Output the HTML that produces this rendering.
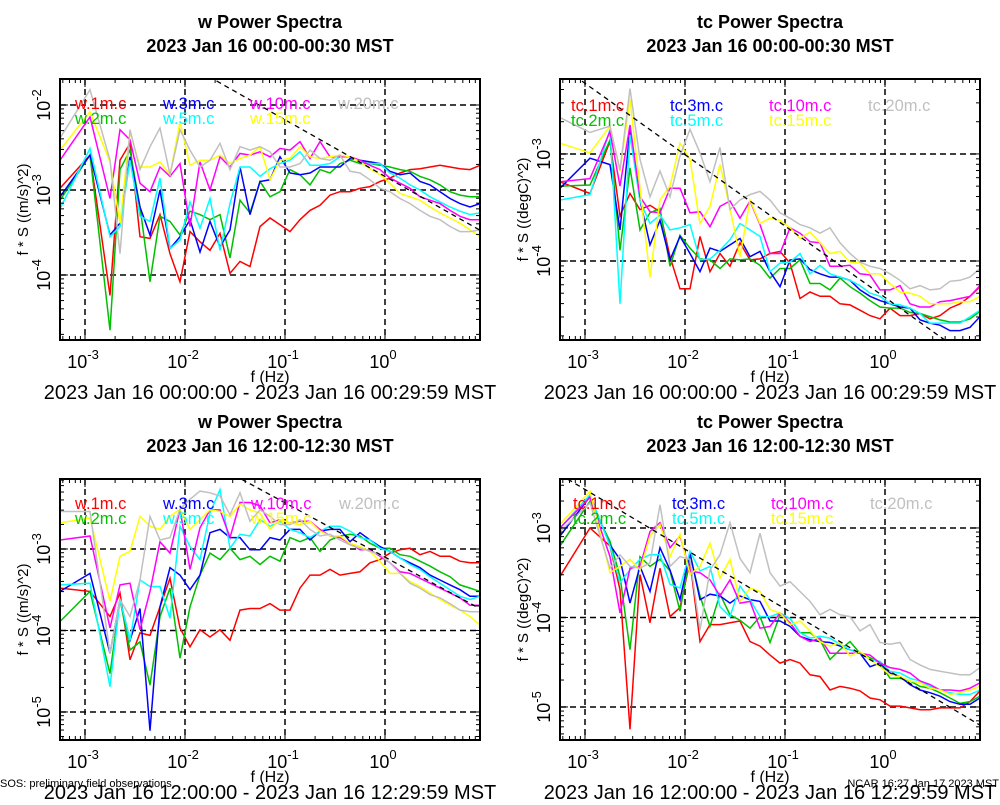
<!DOCTYPE html>
<html><head><meta charset="utf-8"><style>
body{margin:0;background:#fff;width:1000px;height:800px;overflow:hidden;font-family:"Liberation Sans",sans-serif}
svg text{font-family:"Liberation Sans",sans-serif}
</style></head><body>
<svg id="chart" width="1000" height="800" xmlns="http://www.w3.org/2000/svg"></svg>
<script>
// log10 of frequency (Hz)
const logFreq=[-3.25,-2.95,-2.75,-2.65,-2.55,-2.45,-2.35,-2.25,-2.15,-2.05,-1.95,-1.85,-1.75,-1.65,-1.55,-1.45,-1.35,-1.25,-1.15,-1.05,-0.95,-0.85,-0.75,-0.65,-0.55,-0.45,-0.35,-0.25,-0.15,-0.05,0.05,0.15,0.25,0.35,0.45,0.55,0.65,0.75,0.85,0.95];
const seriesNames=["1m","2m","3m","5m","10m","15m","20m"];
const seriesColors=["#ff0000","#00c000","#0000ff","#00ffff","#ff00ff","#ffff00","#c0c0c0"];
// log10 of f*S — panel 1: w 00:00-00:30
const p1_1m=[-2.98,-2.59,-4.24,-2.65,-2.45,-3.55,-3.57,-3.29,-3.75,-4.08,-3.49,-3.61,-3.71,-3.51,-3.98,-3.84,-3.90,-3.43,-3.33,-3.41,-3.49,-3.35,-3.24,-3.18,-3.06,-3.02,-3.02,-2.98,-2.96,-2.90,-2.86,-2.80,-2.76,-2.75,-2.73,-2.71,-2.73,-2.75,-2.76,-2.71];
const p1_2m=[-3.12,-2.59,-4.65,-2.76,-2.53,-3.20,-4.08,-3.31,-3.37,-3.53,-3.25,-3.29,-3.35,-3.29,-3.80,-3.12,-3.27,-2.90,-3.08,-3.02,-2.76,-2.82,-2.94,-2.76,-2.80,-2.69,-2.65,-2.69,-2.69,-2.71,-2.73,-2.76,-2.78,-2.84,-2.88,-2.94,-3.02,-3.06,-3.08,-3.08];
const p1_3m=[-3.08,-2.59,-3.53,-3.39,-2.61,-3.20,-3.53,-3.00,-3.69,-3.55,-3.35,-3.73,-3.37,-3.67,-3.47,-2.73,-3.29,-2.90,-2.88,-2.61,-2.80,-2.82,-2.80,-2.73,-2.73,-2.73,-2.63,-2.65,-2.67,-2.69,-2.78,-2.82,-2.80,-2.90,-2.94,-3.02,-3.10,-3.16,-3.20,-3.16];
const p1_5m=[-3.22,-2.51,-3.55,-3.43,-2.65,-3.31,-3.37,-2.86,-3.69,-3.59,-3.14,-3.45,-3.10,-3.71,-3.16,-2.73,-2.73,-2.84,-2.75,-2.69,-2.65,-2.55,-2.71,-2.71,-2.69,-2.61,-2.61,-2.67,-2.69,-2.69,-2.80,-2.86,-2.94,-3.00,-3.08,-3.14,-3.20,-3.25,-3.29,-3.27];
const p1_10m=[-2.65,-2.14,-3.10,-2.29,-2.41,-2.92,-3.02,-2.73,-2.84,-2.69,-3.43,-2.67,-3.00,-2.61,-2.73,-2.57,-2.59,-2.55,-2.61,-2.51,-2.53,-2.43,-2.63,-2.43,-2.61,-2.61,-2.61,-2.65,-2.71,-2.76,-2.86,-2.92,-2.98,-3.08,-3.12,-3.16,-3.24,-3.31,-3.35,-3.35];
const p1_15m=[-2.53,-2.08,-2.67,-3.39,-2.31,-2.73,-2.73,-2.67,-2.82,-2.20,-2.71,-2.65,-2.65,-2.59,-2.69,-2.63,-2.59,-2.49,-2.88,-2.65,-2.63,-2.49,-2.61,-2.63,-2.61,-2.59,-2.61,-2.67,-2.75,-2.82,-2.92,-3.04,-3.08,-3.12,-3.20,-3.27,-3.33,-3.39,-3.47,-3.55];
const p1_20m=[-2.39,-1.82,-2.65,-3.75,-2.29,-2.76,-2.49,-2.27,-2.82,-2.29,-2.53,-2.73,-2.65,-2.45,-2.76,-2.49,-2.53,-2.49,-2.55,-2.73,-2.73,-2.69,-2.53,-2.63,-2.65,-2.59,-2.78,-2.80,-2.88,-2.98,-3.02,-3.10,-3.16,-3.24,-3.31,-3.35,-3.43,-3.49,-3.49,-3.47];
// panel 2: tc 00:00-00:30
const p2_1m=[-3.26,-3.37,-2.88,-3.58,-3.37,-3.52,-3.48,-3.54,-3.96,-4.26,-4.26,-3.77,-4.10,-3.93,-4.05,-3.83,-3.99,-3.98,-3.93,-3.91,-4.02,-4.35,-4.29,-4.33,-4.33,-4.40,-4.41,-4.46,-4.51,-4.54,-4.44,-4.51,-4.51,-4.49,-4.54,-4.51,-4.44,-4.40,-4.33,-4.24];
const p2_2m=[-3.30,-3.29,-2.87,-3.90,-3.13,-3.71,-3.55,-3.51,-4.05,-3.76,-3.88,-3.98,-3.99,-4.07,-3.98,-3.99,-3.98,-4.04,-4.16,-4.07,-4.07,-3.99,-4.21,-4.21,-4.27,-4.16,-4.24,-4.30,-4.37,-4.43,-4.44,-4.44,-4.48,-4.49,-4.52,-4.55,-4.57,-4.57,-4.54,-4.47];
const p2_3m=[-3.32,-3.04,-3.10,-3.71,-2.77,-3.43,-3.85,-3.62,-3.99,-3.77,-3.93,-4.10,-3.88,-3.91,-3.85,-3.79,-3.96,-3.91,-4.10,-4.24,-3.99,-3.98,-4.08,-4.12,-4.15,-4.15,-4.18,-4.27,-4.33,-4.37,-4.40,-4.43,-4.44,-4.55,-4.58,-4.60,-4.65,-4.65,-4.62,-4.52];
const p2_5m=[-3.43,-3.38,-2.77,-4.40,-2.82,-3.44,-3.65,-3.57,-3.71,-3.69,-3.66,-3.99,-3.98,-3.90,-3.80,-3.65,-3.71,-3.77,-4.10,-4.02,-4.01,-3.93,-4.12,-4.04,-4.12,-4.15,-4.18,-4.23,-4.30,-4.33,-4.40,-4.41,-4.44,-4.49,-4.58,-4.58,-4.58,-4.58,-4.52,-4.46];
const p2_10m=[-3.26,-3.23,-2.79,-3.30,-2.73,-3.40,-3.54,-3.55,-3.32,-3.32,-3.55,-3.54,-3.68,-3.49,-3.44,-3.60,-3.44,-3.66,-3.93,-3.93,-3.69,-3.74,-3.82,-3.83,-4.05,-4.05,-4.04,-4.12,-4.13,-4.27,-4.27,-4.23,-4.40,-4.43,-4.43,-4.38,-4.37,-4.35,-4.33,-4.23];
const p2_15m=[-2.90,-2.99,-2.74,-3.16,-2.49,-3.32,-4.15,-3.43,-3.30,-2.90,-3.05,-3.65,-3.49,-3.10,-3.51,-3.96,-3.43,-3.65,-3.60,-3.62,-3.69,-3.79,-3.73,-3.83,-3.93,-3.91,-4.01,-4.02,-4.12,-4.12,-4.21,-4.29,-4.30,-4.33,-4.40,-4.40,-4.40,-4.38,-4.38,-4.33];
const p2_20m=[-2.66,-2.80,-2.74,-3.15,-2.39,-3.05,-3.40,-3.16,-3.40,-3.02,-2.77,-2.99,-3.26,-2.94,-3.52,-3.43,-3.38,-3.35,-3.43,-3.55,-3.60,-3.66,-3.69,-3.74,-3.69,-3.83,-3.93,-4.01,-4.05,-4.07,-4.12,-4.18,-4.26,-4.23,-4.27,-4.26,-4.19,-4.18,-4.15,-4.07];
// panel 3: w 12:00-12:30
const p3_1m=[-3.48,-3.52,-3.83,-3.54,-4.36,-4.03,-4.06,-3.71,-3.36,-3.97,-4.20,-3.99,-4.08,-3.99,-4.12,-3.75,-3.73,-3.73,-3.67,-3.75,-3.75,-3.48,-3.32,-3.32,-3.25,-3.32,-3.30,-3.28,-3.17,-3.13,-3.05,-3.01,-2.99,-3.07,-3.03,-3.09,-3.09,-3.15,-3.17,-3.17];
const p3_2m=[-3.89,-3.52,-4.53,-3.62,-4.24,-4.14,-4.67,-3.83,-3.48,-4.34,-3.71,-3.32,-3.05,-3.13,-2.99,-3.13,-3.09,-3.19,-3.09,-3.15,-2.86,-2.91,-2.86,-3.03,-2.89,-2.84,-2.82,-2.84,-2.93,-2.99,-2.99,-3.07,-3.09,-3.15,-3.21,-3.28,-3.34,-3.44,-3.48,-3.52];
const p3_3m=[-3.52,-3.30,-4.28,-3.62,-4.12,-3.73,-5.23,-3.71,-3.23,-3.32,-3.50,-3.32,-2.80,-2.76,-2.86,-2.86,-3.01,-3.01,-2.86,-2.89,-2.76,-2.76,-2.89,-2.78,-2.76,-2.76,-2.91,-2.80,-2.89,-2.97,-3.03,-3.11,-3.17,-3.23,-3.32,-3.38,-3.44,-3.50,-3.58,-3.58];
const p3_5m=[-3.44,-3.42,-4.69,-3.62,-4.12,-3.38,-3.46,-3.46,-3.85,-2.72,-2.97,-3.13,-2.56,-2.27,-2.99,-2.82,-2.84,-2.64,-2.72,-2.66,-2.76,-2.80,-2.86,-2.78,-2.72,-2.72,-2.78,-2.86,-2.89,-2.99,-3.03,-3.11,-3.19,-3.25,-3.34,-3.42,-3.50,-3.58,-3.62,-3.58];
const p3_10m=[-2.89,-2.84,-3.97,-3.44,-3.42,-3.99,-3.52,-2.91,-3.05,-2.51,-3.25,-2.74,-2.52,-2.52,-2.86,-2.43,-2.43,-2.47,-2.68,-2.64,-2.68,-2.66,-2.66,-2.76,-2.84,-2.86,-2.93,-3.01,-3.01,-3.09,-3.17,-3.28,-3.30,-3.36,-3.42,-3.48,-3.54,-3.60,-3.69,-3.69];
const p3_15m=[-2.68,-2.62,-3.64,-3.09,-3.03,-2.60,-2.72,-2.76,-2.60,-2.51,-2.76,-2.64,-2.52,-2.54,-2.60,-2.45,-2.52,-2.56,-2.76,-2.64,-2.68,-2.70,-2.66,-2.78,-2.84,-2.84,-2.93,-2.97,-3.03,-3.15,-3.30,-3.30,-3.40,-3.46,-3.54,-3.62,-3.69,-3.75,-3.83,-3.93];
const p3_20m=[-2.54,-2.54,-4.28,-3.62,-3.83,-3.38,-2.60,-2.89,-2.86,-2.51,-2.39,-2.29,-2.31,-2.35,-2.58,-2.31,-2.66,-2.52,-2.60,-2.70,-2.70,-2.64,-2.76,-2.84,-2.82,-2.89,-2.95,-2.99,-3.03,-3.07,-3.17,-3.30,-3.42,-3.48,-3.56,-3.60,-3.67,-3.75,-3.77,-3.77];
// panel 4: tc 12:00-12:30
const p4_1m=[-3.54,-3.00,-3.20,-3.69,-5.25,-3.52,-4.06,-3.45,-3.99,-3.89,-3.37,-4.27,-4.08,-4.08,-4.06,-4.04,-4.27,-4.32,-4.42,-4.51,-4.47,-4.51,-4.64,-4.66,-4.81,-4.77,-4.79,-4.82,-4.90,-4.92,-4.99,-4.99,-5.01,-5.03,-5.03,-5.01,-5.01,-5.01,-4.94,-4.82];
const p4_2m=[-3.20,-2.70,-3.15,-3.54,-4.36,-3.32,-3.43,-3.35,-3.48,-3.93,-3.30,-3.76,-4.10,-3.74,-3.97,-4.03,-4.12,-3.99,-4.28,-3.97,-4.01,-4.17,-4.17,-4.25,-4.47,-4.36,-4.27,-4.40,-4.45,-4.51,-4.68,-4.68,-4.71,-4.77,-4.79,-4.84,-4.90,-4.96,-4.94,-4.88];
const p4_3m=[-3.09,-2.65,-3.19,-3.35,-3.84,-3.43,-3.71,-3.22,-3.47,-3.80,-3.28,-3.80,-3.74,-3.76,-3.84,-3.76,-3.80,-3.82,-4.04,-4.04,-4.10,-4.21,-4.25,-4.27,-4.28,-4.32,-4.36,-4.40,-4.55,-4.51,-4.62,-4.66,-4.75,-4.81,-4.84,-4.88,-4.94,-4.97,-4.97,-4.90];
const p4_5m=[-3.00,-2.63,-3.20,-3.61,-3.47,-3.35,-3.30,-3.30,-3.63,-3.67,-3.26,-3.48,-3.43,-3.88,-3.99,-3.65,-3.80,-3.99,-3.99,-3.95,-4.01,-4.17,-4.23,-4.21,-4.23,-4.30,-4.36,-4.40,-4.47,-4.49,-4.60,-4.62,-4.68,-4.71,-4.77,-4.81,-4.84,-4.86,-4.86,-4.81];
const p4_10m=[-3.00,-2.66,-3.32,-3.95,-3.45,-3.43,-3.04,-2.94,-3.22,-3.09,-3.48,-3.50,-3.58,-3.76,-3.58,-3.84,-3.82,-4.12,-4.10,-3.95,-4.06,-4.21,-4.27,-4.23,-4.40,-4.40,-4.40,-4.40,-4.42,-4.51,-4.56,-4.58,-4.62,-4.71,-4.75,-4.81,-4.81,-4.82,-4.79,-4.73];
const p4_15m=[-2.96,-2.59,-3.50,-3.43,-3.35,-3.47,-3.09,-2.96,-3.32,-3.07,-3.52,-3.43,-3.17,-3.56,-3.35,-3.82,-3.67,-3.71,-3.91,-3.95,-4.08,-4.04,-4.15,-4.27,-4.32,-4.28,-4.43,-4.38,-4.47,-4.55,-4.64,-4.66,-4.71,-4.73,-4.79,-4.81,-4.86,-4.84,-4.81,-4.77];
const p4_20m=[-3.04,-2.72,-3.45,-3.30,-3.43,-3.45,-3.39,-2.74,-3.43,-3.32,-3.35,-4.14,-3.47,-3.30,-2.94,-3.34,-3.50,-3.06,-3.50,-3.65,-3.60,-3.71,-3.82,-3.97,-3.91,-3.97,-3.99,-4.15,-4.08,-4.28,-4.30,-4.28,-4.47,-4.53,-4.58,-4.60,-4.62,-4.64,-4.64,-4.56];
// reference slope line: log10(f*S) = intercept + slope*log10(f)
const refSlope=-2/3;
const refIntercepts=[-2.84,-4.34,-3.10,-4.57];
const xTickExps=[-3,-2,-1,0];

const panels=[
 {id:"w-early",v:"w",title:"w Power Spectra",sub:"2023 Jan 16 00:00-00:30 MST",range:"2023 Jan 16 00:00:00 - 2023 Jan 16 00:29:59 MST",ylab:"f * S ((m/s)^2)",x0:60,x1:480,y0:79,y1:340,ymax:-1.694,ymin:-4.765,yt:[-2,-3,-4],data:[p1_1m,p1_2m,p1_3m,p1_5m,p1_10m,p1_15m,p1_20m],lx:[75,163,250,338],ly:109},
 {id:"tc-early",v:"tc",title:"tc Power Spectra",sub:"2023 Jan 16 00:00-00:30 MST",range:"2023 Jan 16 00:00:00 - 2023 Jan 16 00:29:59 MST",ylab:"f * S ((degC)^2)",x0:560,x1:980,y0:79,y1:340,ymax:-2.30,ymin:-4.738,yt:[-3,-4],data:[p2_1m,p2_2m,p2_3m,p2_5m,p2_10m,p2_15m,p2_20m],lx:[571,670,769,868],ly:111},
 {id:"w-noon",v:"w",title:"w Power Spectra",sub:"2023 Jan 16 12:00-12:30 MST",range:"2023 Jan 16 12:00:00 - 2023 Jan 16 12:29:59 MST",ylab:"f * S ((m/s)^2)",x0:60,x1:480,y0:479,y1:740,ymax:-2.141,ymin:-5.344,yt:[-3,-4,-5],data:[p3_1m,p3_2m,p3_3m,p3_5m,p3_10m,p3_15m,p3_20m],lx:[75,163,251,339],ly:509},
 {id:"tc-noon",v:"tc",title:"tc Power Spectra",sub:"2023 Jan 16 12:00-12:30 MST",range:"2023 Jan 16 12:00:00 - 2023 Jan 16 12:29:59 MST",ylab:"f * S ((degC)^2)",x0:560,x1:980,y0:479,y1:740,ymax:-2.453,ymin:-5.369,yt:[-3,-4,-5],data:[p4_1m,p4_2m,p4_3m,p4_5m,p4_10m,p4_15m,p4_20m],lx:[573,672,771,870],ly:509}
];
const NS="http://www.w3.org/2000/svg";
const svg=document.getElementById('chart');
function mk(tag,attrs,parent){const e=document.createElementNS(NS,tag);for(const k in attrs)e.setAttribute(k,attrs[k]);(parent||svg).appendChild(e);return e;}
const XMIN=-3.25,XMAX=0.95;
panels.forEach((p,pi)=>{
 const g=mk('g',{});
 
 
 const sx=v=>p.x0+(v-XMIN)/(XMAX-XMIN)*(p.x1-p.x0);
 const sy=v=>p.y0+(p.ymax-v)/(p.ymax-p.ymin)*(p.y1-p.y0);
 const cx=(p.x0+p.x1)/2;
 let t=mk('text',{x:cx,y:p.y0-51,'text-anchor':'middle','font-size':'18','font-weight':'bold'},g);t.textContent=p.title;
 
 t=mk('text',{x:cx,y:p.y0-27,'text-anchor':'middle','font-size':'18','font-weight':'bold'},g);t.textContent=p.sub;
 
 const cid='clip'+pi;
 const cp=mk('clipPath',{id:cid},g);mk('rect',{x:p.x0,y:p.y0,width:p.x1-p.x0,height:p.y1-p.y0},cp);
 xTickExps.forEach(e=>{const l=mk('line',{x1:sx(e),x2:sx(e),y1:p.y0,y2:p.y1,stroke:'#000','stroke-width':1.5,'stroke-dasharray':'6,4'},g);
  });
 p.yt.forEach(e=>{const l=mk('line',{x1:p.x0,x2:p.x1,y1:sy(e),y2:sy(e),stroke:'#000','stroke-width':1.5,'stroke-dasharray':'6,4'},g);
  });
 const sg=mk('g',{'clip-path':'url(#'+cid+')'},g);
 p.data.forEach((arr,si)=>{
  const pts=arr.map((v,i)=>sx(logFreq[i]).toFixed(1)+','+sy(v).toFixed(1)).join(' ');
  const pl=mk('polyline',{points:pts,fill:'none',stroke:seriesColors[si],'stroke-width':1.5},sg);
  
  
 });
 const rl=mk('line',{x1:sx(XMIN),y1:sy(refIntercepts[pi]+refSlope*XMIN),x2:sx(XMAX),y2:sy(refIntercepts[pi]+refSlope*XMAX),stroke:'#000','stroke-width':1.3,'stroke-dasharray':'5,4'},sg);
 
 const bx=mk('rect',{x:p.x0,y:p.y0,width:p.x1-p.x0,height:p.y1-p.y0,fill:'none',stroke:'#000','stroke-width':2},g);
 
 for(let d=-4;d<=0;d++){for(let m=1;m<10;m++){const v=d+Math.log10(m);if(v<XMIN||v>XMAX)continue;const L=m==1?8:4;const x=sx(v);
  mk('line',{x1:x,x2:x,y1:p.y1,y2:p.y1-L,stroke:'#000'},g);mk('line',{x1:x,x2:x,y1:p.y0,y2:p.y0+L,stroke:'#000'},g);}}
 for(let d=-6;d<=-1;d++){for(let m=1;m<10;m++){const v=d+Math.log10(m);if(v<p.ymin||v>p.ymax)continue;const L=m==1?8:4;const y=sy(v);
  mk('line',{x1:p.x0,x2:p.x0+L,y1:y,y2:y,stroke:'#000'},g);mk('line',{x1:p.x1,x2:p.x1-L,y1:y,y2:y,stroke:'#000'},g);}}
 xTickExps.forEach(e=>{const tx=mk('text',{x:sx(e)-2,y:p.y1+28,'text-anchor':'middle','font-size':'18'},g);
  tx.innerHTML='10<tspan dy="-9" font-size="13">'+e+'</tspan>';
  });
 p.yt.forEach(e=>{const y=sy(e);const tx=mk('text',{transform:'translate('+(p.x0-10)+','+y+') rotate(-90)','text-anchor':'middle','font-size':'18'},g);
  tx.innerHTML='10<tspan dy="-9" font-size="13">'+e+'</tspan>';
  });
 t=mk('text',{x:cx,y:p.y1+42,'text-anchor':'middle','font-size':'16'},g);t.textContent='f (Hz)';
 
 t=mk('text',{transform:'translate('+(p.x0-32)+','+((p.y0+p.y1)/2)+') rotate(-90)','text-anchor':'middle','font-size':'15'},g);t.textContent=p.ylab;
 
 t=mk('text',{x:cx,y:p.y1+59,'text-anchor':'middle','font-size':'20'},g);t.textContent=p.range;
 
 seriesNames.forEach((n,si)=>{const col=si>>1,row=si&1;
  const lt=mk('text',{x:p.lx[col],y:p.ly+row*15,'font-size':'16.5',fill:seriesColors[si]},g);
  lt.textContent=p.v+'.'+n+'.c';
  });
});
let ft=mk('text',{x:0,y:787,'font-size':'11'});ft.textContent='SOS: preliminary field observations';

ft=mk('text',{x:999,y:787,'font-size':'11','text-anchor':'end'});ft.textContent='NCAR 16:27 Jan 17 2023 MST';

</script>
</body></html>
